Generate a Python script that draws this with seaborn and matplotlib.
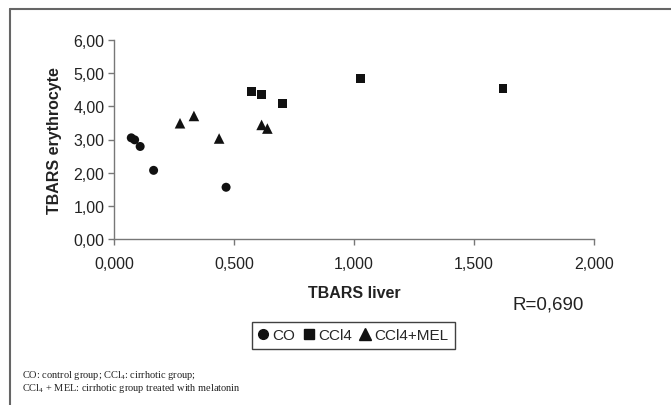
import matplotlib
matplotlib.use("Agg")
import matplotlib.pyplot as plt
import seaborn as sns
import pandas as pd
from matplotlib.ticker import FuncFormatter, MultipleLocator
from matplotlib.lines import Line2D

# ---- data ----
co_x = [0.072, 0.086, 0.109, 0.165, 0.467]
co_y = [3.05, 2.99, 2.79, 2.07, 1.56]
ccl4_x = [0.572, 0.614, 0.701, 1.027, 1.621]
ccl4_y = [4.45, 4.35, 4.08, 4.84, 4.54]
mel_x = [0.275, 0.333, 0.438, 0.615, 0.639]
mel_y = [3.49, 3.71, 3.03, 3.44, 3.33]
groups = ["CO", "CCl4", "CCl4+MEL"]

df = pd.DataFrame({
    "x": co_x + ccl4_x + mel_x,
    "y": co_y + ccl4_y + mel_y,
    "group": [groups[0]] * len(co_x) + [groups[1]] * len(ccl4_x) + [groups[2]] * len(mel_x),
})

sns.set_style("white")
plt.rcParams["font.family"] = ["Liberation Sans", "DejaVu Sans"]
plt.rcParams["mathtext.fontset"] = "custom"
plt.rcParams["mathtext.rm"] = "Liberation Serif"

fig = plt.figure(figsize=(6.71, 4.06), dpi=100)
ax = fig.add_axes([114 / 671, 1 - 240 / 406, 480 / 671, 199 / 406])

markers = {"CO": "o", "CCl4": "s", "CCl4+MEL": "^"}
sizes = {"CO": 42, "CCl4": 40, "CCl4+MEL": 58}
for g in groups:
    sub = df[df.group == g]
    sns.scatterplot(data=sub, x="x", y="y", marker=markers[g], s=sizes[g],
                    color="#111111", edgecolor="none", ax=ax, legend=False, zorder=3)

ax.set_xlim(0, 2)
ax.set_ylim(0, 6)
ax.xaxis.set_major_locator(MultipleLocator(0.5))
ax.yaxis.set_major_locator(MultipleLocator(1))
ax.xaxis.set_major_formatter(FuncFormatter(lambda v, p: f"{v:.3f}".replace(".", ",")))
ax.yaxis.set_major_formatter(FuncFormatter(lambda v, p: f"{v:.2f}".replace(".", ",")))

for s in ["top", "right"]:
    ax.spines[s].set_visible(False)
for s in ["left", "bottom"]:
    ax.spines[s].set_color("#777777")
    ax.spines[s].set_linewidth(1.0)
ax.tick_params(axis="both", direction="out", length=4, width=1, color="#777777",
               labelsize=11.5, labelcolor="#222222", pad=3, left=True, bottom=True)
ax.tick_params(axis="x", pad=8)

ax.set_xlabel("TBARS liver", fontsize=11.5, fontweight="bold", color="#222222", labelpad=10)
ax.set_ylabel("TBARS erythrocyte", fontsize=11.5, fontweight="bold", color="#222222", labelpad=8)

fig.text(548 / 671, 1 - 305 / 406, "R=0,690", ha="center", va="center", fontsize=13.5, color="#222222")

handles = [Line2D([], [], marker=markers[g], linestyle="none", color="#111111",
                  markersize=7 if g != "CCl4+MEL" else 8) for g in groups]
leg = fig.legend(handles, groups, loc="center", bbox_to_anchor=(353.5 / 671, 1 - 336.5 / 406),
                 ncol=3, frameon=True, fancybox=False, fontsize=11, handlelength=0.6,
                 handletextpad=0.3, columnspacing=0.6, borderpad=0.4, borderaxespad=0)
leg.get_frame().set_edgecolor("#111111")
leg.get_frame().set_linewidth(1.0)

fig.text(22 / 671, 1 - 376 / 406, r"CO: control group; CCl$_{4}$: cirrhotic group;",
         ha="left", va="center", fontsize=7.5, family="Liberation Serif", color="#222222")
fig.text(22 / 671, 1 - 389 / 406, r"CCl$_{4}$ + MEL: cirrhotic group treated with melatonin",
         ha="left", va="center", fontsize=7.5, family="Liberation Serif", color="#222222")

# outer frame (left and top only, image is cropped)
fig.add_artist(Line2D([10 / 671, 10 / 671], [0, 1 - 10 / 406], transform=fig.transFigure,
                      color="#666666", linewidth=1.5))
fig.add_artist(Line2D([10 / 671, 1], [1 - 10 / 406, 1 - 10 / 406], transform=fig.transFigure,
                      color="#666666", linewidth=1.5))

fig.savefig("out.png", dpi=100)
